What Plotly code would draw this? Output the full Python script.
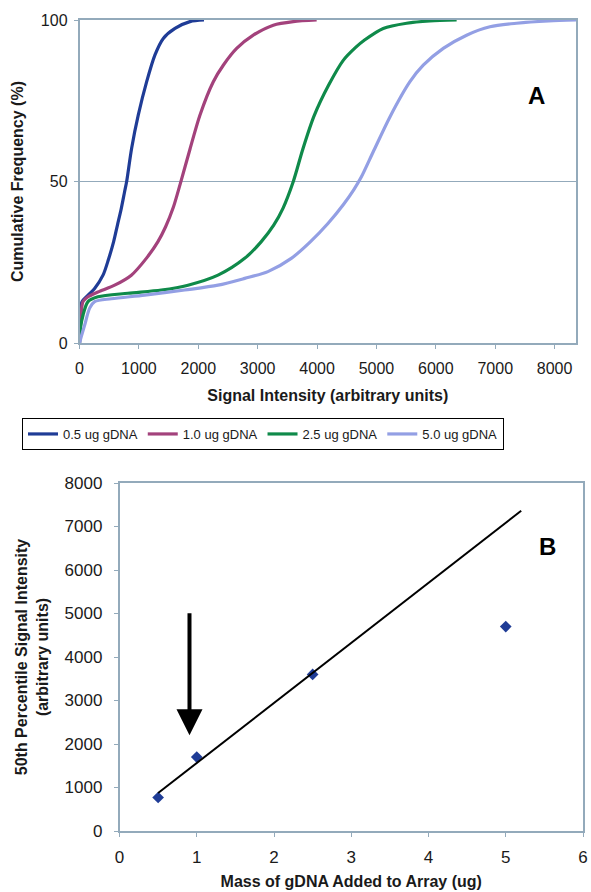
import numpy as np
import plotly.graph_objects as go

# ---------------- Panel A data (cumulative frequency curves) ----------------
series_names = ["0.5 ug gDNA", "1.0 ug gDNA", "2.5 ug gDNA", "5.0 ug gDNA"]
series_colors = ["#1f3c96", "#a3427c", "#0f8a4a", "#939fe4"]

x_05 = [0, 15, 42, 115, 255, 396, 490, 575, 640, 704, 760, 794, 878, 990, 1131, 1271, 1411, 1608, 1860, 2096]
y_05 = [0, 7, 12.8, 14.3, 16.9, 21, 26, 31.4, 36.6, 41.7, 46.9, 50, 60.3, 70.6, 80.9, 89.2, 94.3, 97.4, 99.5, 100]

x_10 = [0, 20, 59, 143, 311, 592, 873, 1125, 1321, 1450, 1580, 1700, 1860, 2029, 2253, 2421, 2646, 2926, 3263, 3599, 3993]
y_10 = [0, 7, 12.8, 14.3, 15.8, 17.9, 21, 26.2, 31.4, 36, 42, 49.5, 60, 70.6, 80.9, 86, 91.2, 95.3, 98.4, 99.5, 100]

x_25 = [0, 20, 59, 143, 311, 816, 1377, 1827, 2332, 2781, 3061, 3270, 3426, 3600, 3760, 3950, 4200, 4441, 4650, 4800, 5114, 5508, 5900, 6350]
y_25 = [0, 5, 8.6, 12.8, 14.3, 15.4, 16.4, 17.9, 21, 26.2, 31.4, 36.5, 41.7, 50, 60, 70.3, 80, 87.5, 91.5, 93.8, 97.4, 99, 99.7, 100]

x_50 = [0, 30, 88, 171, 255, 536, 1098, 1771, 2332, 2781, 3173, 3566, 3890, 4183, 4441, 4620, 4740, 4946, 5227, 5564, 5788, 6125, 6518, 6911, 7360, 7900, 8370]
y_50 = [0, 2, 5.6, 10.8, 12.8, 13.7, 14.8, 16.4, 17.9, 20, 22.1, 26.2, 31.4, 37, 42.8, 47.5, 51.2, 59.2, 70, 80.9, 86, 91.2, 95.3, 97.9, 99, 99.7, 100]

xs_a = [x_05, x_10, x_25, x_50]
ys_a = [y_05, y_10, y_25, y_50]

# ---------------- Panel B data ----------------
mass_ug = [0.5, 1.0, 2.5, 5.0]
p50_intensity = [770, 1700, 3600, 4700]
fit_n = 3            # linear fit on the first three (linear-range) points
fit_x_end = 5.2

a_xticks = [0, 1000, 2000, 3000, 4000, 5000, 6000, 7000, 8000]
a_yticks = [0, 50, 100]
b_xticks = [0, 1, 2, 3, 4, 5, 6]
b_yticks = [0, 1000, 2000, 3000, 4000, 5000, 6000, 7000, 8000]

# the page's body margin is removed (see post_script), so the figure fills the window
OFF = 0
W, H = 591, 892
FONT = "Liberation Sans, Arial, sans-serif"
AXC = "#93aabb"
TXT = "#1a1a1a"

fig = go.Figure()

for name, col, xv, yv in zip(series_names, series_colors, xs_a, ys_a):
    fig.add_trace(go.Scatter(x=xv, y=yv, name=name, mode="lines",
                             line=dict(color=col, width=3.2, shape="spline", smoothing=0.8),
                             xaxis="x", yaxis="y"))

fig.add_trace(go.Scatter(x=mass_ug, y=p50_intensity, mode="markers", showlegend=False,
                         marker=dict(symbol="diamond", size=9, color="#1f3c96"),
                         xaxis="x2", yaxis="y2"))

slope, intercept = np.polyfit(mass_ug[:fit_n], p50_intensity[:fit_n], 1)
fx = [mass_ug[0], fit_x_end]
fy = [slope * v + intercept for v in fx]
fig.add_trace(go.Scatter(x=fx, y=fy, mode="lines", showlegend=False,
                         line=dict(color="black", width=2), xaxis="x2", yaxis="y2"))

def px(v):
    return (v - OFF) / W

def py(v):
    return 1 - (v - OFF) / H

def axis_common(size, standoff):
    return dict(showline=True, linecolor=AXC, linewidth=1.5, mirror=True,
                ticks="outside", tickcolor=AXC, ticklen=4, zeroline=False,
                automargin=False, ticklabelstandoff=standoff,
                ticklabeloverflow="allow",
                tickfont=dict(family=FONT, size=size, color=TXT))

title_font = dict(size=16, family=FONT, color=TXT)

fig.update_layout(
    width=W, height=H, margin=dict(l=0, r=0, t=0, b=0),
    paper_bgcolor="white", plot_bgcolor="white",
    font=dict(family=FONT, color=TXT),
    xaxis=dict(domain=[px(79.5), px(576)], range=[0, 8360], tickvals=a_xticks,
               showgrid=False, anchor="y",
               title=dict(text="<b>Signal Intensity (arbitrary units)</b>",
                          font=title_font, standoff=14),
               **axis_common(16, 6)),
    yaxis=dict(domain=[py(343), py(20)], range=[0, 100], tickvals=a_yticks,
               showgrid=True, gridcolor=AXC, gridwidth=1.2, anchor="x",
               title=dict(text="<b>Cumulative Frequency (%)</b>",
                          font=title_font, standoff=13),
               **axis_common(16, 3)),
    xaxis2=dict(domain=[px(119.5), px(583)], range=[0, 6], tickvals=b_xticks,
                showgrid=False, anchor="y2",
                title=dict(text="<b>Mass of gDNA Added to Array (ug)</b>",
                           font=title_font, standoff=10),
                **axis_common(17, 6)),
    yaxis2=dict(domain=[py(831), py(483)], range=[0, 8000], tickvals=b_yticks,
                showgrid=False, anchor="x2",
                title=dict(text="<b>50th Percentile Signal Intensity<br>(arbitrary units)</b>",
                           font=title_font, standoff=12),
                **axis_common(17, 8)),
    legend=dict(orientation="h", x=px(22), y=py(418), xanchor="left", yanchor="top",
                bordercolor="black", borderwidth=1, bgcolor="white",
                font=dict(family=FONT, size=13, color=TXT),
                itemwidth=30, tracegroupgap=0),
    showlegend=True,
)

fig.add_annotation(text="<b>A</b>", x=px(547), y=py(80), xref="paper", yref="paper",
                   showarrow=False, font=dict(size=24, family=FONT, color="black"))
fig.add_annotation(text="<b>B</b>", x=px(558), y=py(546), xref="paper", yref="paper",
                   showarrow=False, font=dict(size=24, family=FONT, color="black"))

fig.add_annotation(x=0.906, y=2200, ax=0.906, ay=5040, xref="x2", yref="y2",
                   axref="x2", ayref="y2", text="", showarrow=True,
                   arrowhead=2, arrowwidth=4, arrowsize=1.3, arrowcolor="black")

fig.write_html("out.html",
               config={"displayModeBar": False},
               post_script="document.body.style.margin='0px';"
                           "document.body.style.overflow='hidden';")
